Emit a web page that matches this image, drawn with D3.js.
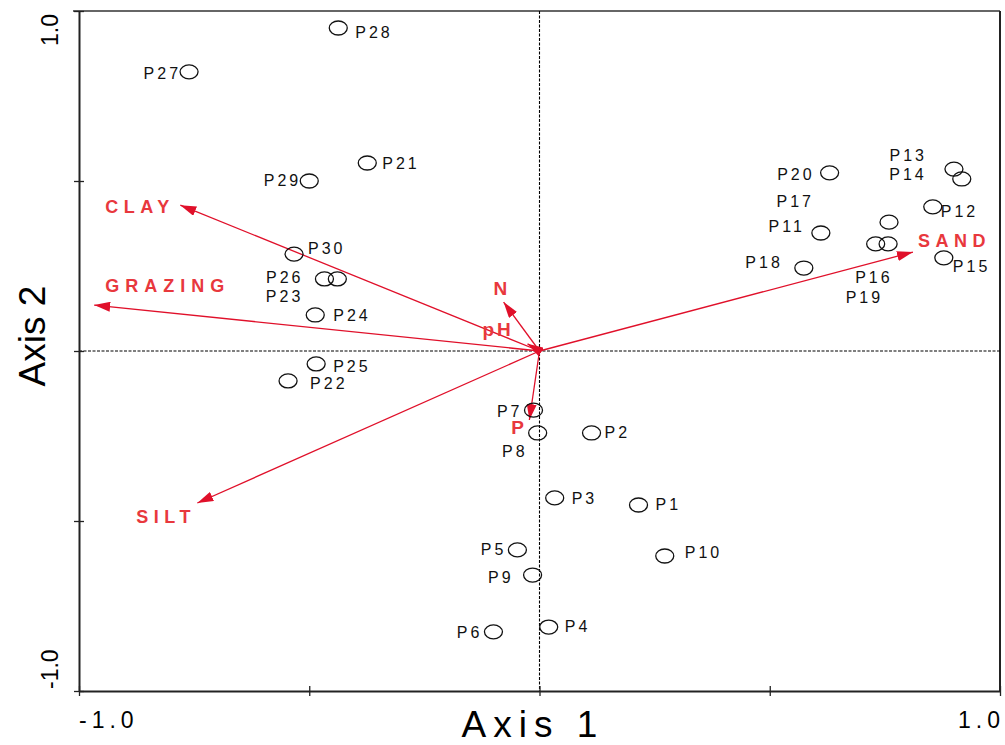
<!DOCTYPE html>
<html><head><meta charset="utf-8">
<script src="https://cdn.jsdelivr.net/npm/d3@7"></script>
<style>body{margin:0;background:#fff}svg{display:block}text{font-family:"Liberation Sans",Arial,sans-serif}</style>
</head><body><svg id="c" width="1005" height="745"></svg>
<script>
const sites = ["P1","P2","P3","P4","P5","P6","P7","P8","P9","P10","P11","P12","P13","P14","P15","P16","P17","P18","P19","P20","P21","P22","P23","P24","P25","P26","P27","P28","P29","P30"];
const siteX = [0.215,0.113,0.033,0.020,-0.048,-0.100,-0.013,-0.004,-0.015,0.272,0.611,0.854,0.900,0.917,0.878,0.730,0.759,0.574,0.757,0.630,-0.374,-0.546,-0.439,-0.487,-0.485,-0.467,-0.761,-0.437,-0.500,-0.533];
const siteY = [-0.453,-0.241,-0.432,-0.812,-0.585,-0.826,-0.174,-0.241,-0.659,-0.603,0.347,0.424,0.535,0.506,0.274,0.315,0.379,0.244,0.315,0.524,0.553,-0.088,0.212,0.106,-0.038,0.212,0.821,0.950,0.500,0.285];
const variables = ["CLAY","GRAZING","SILT","SAND","N","pH","P"];
const varX = [-0.780,-0.967,-0.743,0.811,-0.078,-0.026,-0.022];
const varY = [0.429,0.135,-0.447,0.291,0.144,0.021,-0.203];
const xTicks = [-1,-0.5,0,0.5,1];
const yTicks = [-1,-0.5,0,0.5,1];
const xTickLabels = ["-1.0","1.0"];
const yTickLabels = ["-1.0","1.0"];

// label placement (pixels, relative to the point / arrow tip)
const siteLabelPos = {
 P1:[17,5,"start"],P2:[13,5,"start"],P3:[17,6,"start"],P4:[16,5,"start"],P5:[-11,5,"end"],P6:[-11,6,"end"],
 P7:[-11,7,"end"],P8:[-10,24,"end"],P9:[-19,8,"end"],P10:[20,2,"start"],P11:[-16,-1,"end"],P12:[8,10,"start"],
 P13:[-27,-8,"end"],P14:[-35,1,"end"],P15:[9,14,"start"],P16:[17,39,"end"],P17:[-75,-15,"end"],P18:[-21,0,"end"],
 P19:[-5,59,"end"],P20:[-15,7,"end"],P21:[15,6,"start"],P22:[22,8,"start"],P23:[-34,23,"end"],P24:[18,6,"start"],
 P25:[17,8,"start"],P26:[-21,4,"end"],P27:[-8,7,"end"],P28:[17,10,"start"],P29:[-8,5,"end"],P30:[14,0,"start"]
};
const varLabelPos = {CLAY:[-75,8],GRAZING:[11,-13],SILT:[-61,20],SAND:[5,-5],N:[-10,-7],pH:[-45,-8],P:[-18,14]};

const svg = d3.select("#c");
const L=79,R=1000,T=11,B=691;
const x = d3.scaleLinear().domain([-1,1]).range([L,R]);
const y = d3.scaleLinear().domain([-1,1]).range([B,T]);
const red="#e0102a", redTxt="#e8383d";

// frame
svg.append("line").attr("x1",73).attr("x2",R).attr("y1",T).attr("y2",T).attr("stroke","#666").attr("stroke-width",2);
svg.append("line").attr("x1",R).attr("x2",R).attr("y1",T).attr("y2",B).attr("stroke","#222").attr("stroke-width",2);

// zero lines
svg.append("line").attr("x1",L).attr("x2",R).attr("y1",y(0)).attr("y2",y(0)).attr("stroke","#000").attr("stroke-width",1.1).attr("stroke-dasharray","3,1.5");
svg.append("line").attr("x1",x(0)).attr("x2",x(0)).attr("y1",T).attr("y2",B).attr("stroke","#000").attr("stroke-width",1.1).attr("stroke-dasharray","3,1.5");

// axes
const xa = svg.append("g").attr("transform",`translate(0,${B})`)
  .call(d3.axisBottom(x).tickValues(xTicks).tickSize(5).tickSizeOuter(0).tickFormat(""));
const ya = svg.append("g").attr("transform",`translate(${L},0)`)
  .call(d3.axisLeft(y).tickValues(yTicks).tickSize(5).tickSizeOuter(0).tickFormat(""));
[xa,ya].forEach(g=>{g.select(".domain").attr("stroke","#222").attr("stroke-width",2);
  g.selectAll(".tick line").attr("stroke","#222").attr("stroke-width",1.3);});
xa.selectAll(".tick line").attr("y1",-5);
ya.selectAll(".tick line").attr("x1",5);

// tick labels
svg.append("text").attr("x",x(-1)).attr("y",728).attr("font-size",23).attr("letter-spacing",5).text(xTickLabels[0]);
svg.append("text").attr("x",x(1)+5).attr("y",728).attr("text-anchor","end").attr("font-size",23).attr("letter-spacing",5).text(xTickLabels[1]);
svg.append("text").attr("transform",`translate(58,${y(-1)-2}) rotate(-90)`).attr("font-size",23).text(yTickLabels[0]);
svg.append("text").attr("transform",`translate(58,${y(1)+3}) rotate(-90)`).attr("text-anchor","end").attr("font-size",23).text(yTickLabels[1]);

// axis titles
svg.append("text").attr("x",533).attr("y",737).attr("text-anchor","middle").attr("font-size",37).attr("letter-spacing",7).text("Axis 1");
svg.append("text").attr("transform",`translate(45,${(T+B)/2-15}) rotate(-90)`).attr("text-anchor","middle").attr("font-size",37).text("Axis 2");

// arrows
svg.append("defs").append("marker").attr("id","ah").attr("viewBox","0 0 16 10").attr("refX",16).attr("refY",5)
  .attr("markerWidth",16).attr("markerHeight",10).attr("markerUnits","userSpaceOnUse").attr("orient","auto")
  .append("path").attr("d","M0,0L16,5L0,10Z").attr("fill",red);
const vars = variables.map((v,i)=>({v,x:varX[i],y:varY[i]}));
svg.append("g").selectAll("line").data(vars).join("line")
  .attr("x1",x(0)).attr("y1",y(0)).attr("x2",d=>x(d.x)).attr("y2",d=>y(d.y))
  .attr("stroke",red).attr("stroke-width",1.3).attr("marker-end","url(#ah)");
svg.append("g").selectAll("text").data(vars).join("text")
  .attr("x",d=>x(d.x)+varLabelPos[d.v][0]).attr("y",d=>y(d.y)+varLabelPos[d.v][1])
  .attr("fill",redTxt).attr("font-weight","bold").attr("font-size",d=>d.v.length>2?18:19)
  .attr("letter-spacing",d=>d.v==="GRAZING"?6:(d.v.length>2?5.5:(d.v==="pH"?3:0)))
  .text(d=>d.v);

// sites
const pts = sites.map((s,i)=>({s,x:siteX[i],y:siteY[i]}));
svg.append("g").selectAll("ellipse").data(pts).join("ellipse")
  .attr("cx",d=>x(d.x)).attr("cy",d=>y(d.y)).attr("rx",9).attr("ry",7)
  .attr("fill","none").attr("stroke","#111").attr("stroke-width",1.3);
svg.append("g").selectAll("text").data(pts).join("text")
  .attr("x",d=>x(d.x)+siteLabelPos[d.s][0]).attr("y",d=>y(d.y)+siteLabelPos[d.s][1])
  .attr("text-anchor",d=>siteLabelPos[d.s][2]).attr("font-size",16).attr("letter-spacing",3).attr("fill","#111")
  .text(d=>d.s);
</script></body></html>
